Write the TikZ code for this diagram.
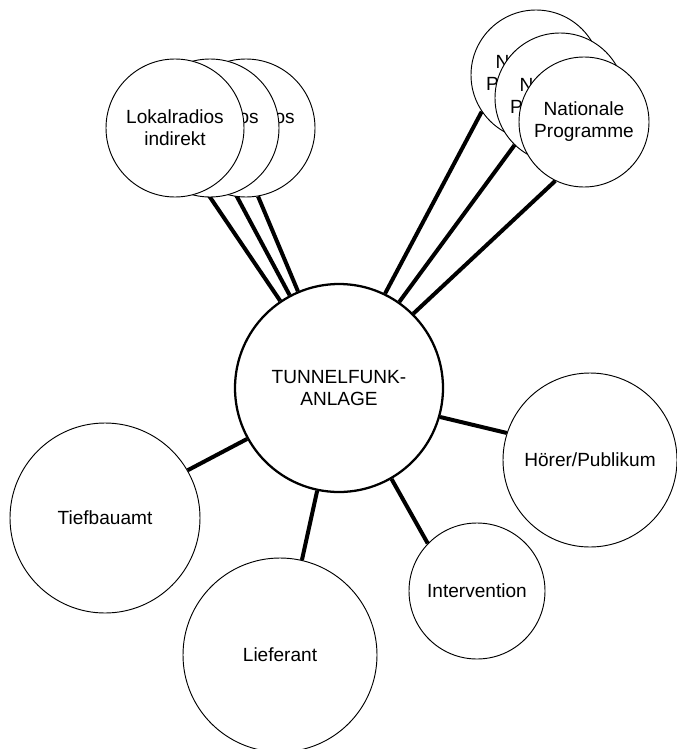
\documentclass[tikz,border=0pt]{standalone}
\usepackage{fontspec}
\setmainfont{Liberation Sans}
\usetikzlibrary{backgrounds}

\tikzset{
  party/.style={circle, draw, fill=white, line width=0.7pt, align=center, inner sep=0pt,
    font=\fontsize{14.3}{16.5}\selectfont},
  link/.style={line width=3pt},
}

\begin{document}
\begin{tikzpicture}[x=0.75pt, y=-0.75pt]
\useasboundingbox (0,0) rectangle (676,749);

\node (tf) at (339,388) [party, line width=1.7pt, minimum size=156pt] {TUNNELFUNK-\\ANLAGE};

% Lokalradios: hinten zuerst
\node (l3) at (246,128) [party, minimum size=103.5pt] {Lokalradios\\indirekt};
\node (l2) at (210,128) [party, minimum size=103.5pt] {Lokalradios\\indirekt};
\node (l1) at (175,128) [party, minimum size=103.5pt] {Lokalradios\\indirekt};

% Nationale Programme
\node (n1) at (536,75) [party, minimum size=97.5pt] {Nationale\\Programme};
\node (n2) at (560,98) [party, minimum size=97.5pt] {Nationale\\Programme};
\node (n3) at (584,122) [party, minimum size=97.5pt] {Nationale\\Programme};

\node (tb) at (105,518) [party, minimum size=142.5pt] {Tiefbauamt};
\node (lf) at (280,655) [party, minimum size=145.5pt] {Lieferant};
\node (iv) at (477,591) [party, minimum size=102pt] {Intervention};
\node (hp) at (590,460) [party, minimum size=130.5pt] {H\"orer/Publikum};

\begin{scope}[on background layer]
  \draw[link] (l1.296) -- (tf.124);
  \draw[link] (l2.291) -- (tf.118);
  \draw[link] (l3.280) -- (tf.113);
  \draw[link] (n1.214) -- (tf.64);
  \draw[link] (n2.226) -- (tf.55);
  \draw[link] (n3.244) -- (tf.45);
  \draw[link] (tb.30) -- (tf.209);
  \draw[link] (lf.77) -- (tf.258);
  \draw[link] (iv.136) -- (tf.300);
  \draw[link] (hp.162) -- (tf.344);
\end{scope}

\end{tikzpicture}
\end{document}
